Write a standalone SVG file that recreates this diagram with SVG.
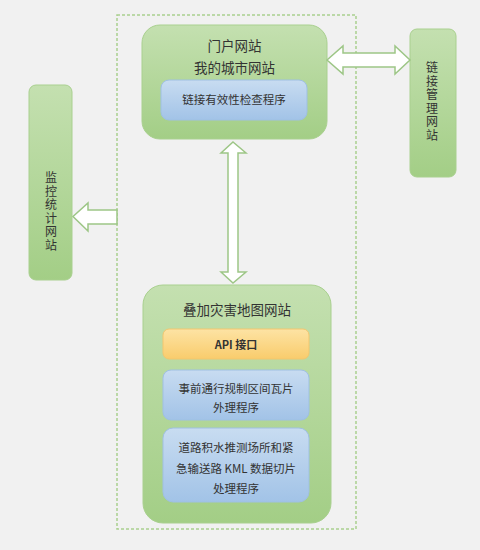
<svg xmlns="http://www.w3.org/2000/svg" width="480" height="550" viewBox="0 0 480 550">
<defs>
<linearGradient id="gG" x1="0" y1="0" x2="0" y2="1"><stop offset="0" stop-color="#c4e0b0"/><stop offset="1" stop-color="#a3ce86"/></linearGradient>
<linearGradient id="gB" x1="0" y1="0" x2="0" y2="1"><stop offset="0" stop-color="#c8dcf1"/><stop offset="1" stop-color="#a2c3e7"/></linearGradient>
<linearGradient id="gO" x1="0" y1="0" x2="0" y2="1"><stop offset="0" stop-color="#fde3a4"/><stop offset="1" stop-color="#f9cc6c"/></linearGradient>
<style>
.g{fill:url(#gG);stroke:#a9d08f;stroke-width:1}
.b{fill:url(#gB);stroke:#9fc0e2;stroke-width:1}
.o{fill:url(#gO);stroke:#f3c66e;stroke-width:1}
.ar{fill:#ffffff;stroke:#9dc686;stroke-width:1.5;stroke-linejoin:miter}
.t{font-family:"Noto Sans CJK SC","Noto Sans",sans-serif;fill:#333333;text-anchor:middle}
.v{writing-mode:vertical-rl;letter-spacing:1.5px}
.dash{fill:none;stroke:#a9cf8e;stroke-width:1.5;stroke-dasharray:3 2}
</style>
</defs>
<rect width="480" height="550" fill="#f1f1f1"/>
<rect class="dash" x="117" y="15" width="239" height="514"/>
<g id="portal">
<rect class="g" x="142" y="25" width="185" height="114" rx="18"/>
<text class="t" x="234.5" y="51" font-size="13.5">门户网站</text>
<text class="t" x="234.5" y="73" font-size="13.5">我的城市网站</text>
<rect class="b" x="161" y="80" width="146" height="40" rx="8"/>
<text class="t" x="234" y="104" font-size="11.5">链接有效性检查程序</text>
</g>
<g id="linkmgmt">
<rect class="g" x="410" y="29" width="46" height="148" rx="7"/>
<text class="t v" font-size="12" x="432" y="102">链接管理网站</text>
</g>
<g id="monitor">
<rect class="g" x="29" y="85" width="43" height="195" rx="7"/>
<text class="t v" font-size="12" x="51" y="212">监控统计网站</text>
</g>
<g id="disaster">
<rect class="g" x="143" y="285" width="188" height="238" rx="20"/>
<text class="t" x="237" y="315" font-size="13.5">叠加灾害地图网站</text>
<g id="api">
<rect class="o" x="163" y="329" width="146" height="30" rx="6"/>
<text class="t" x="236" y="348.5" font-size="11" font-weight="bold">API 接口</text>
</g>
<g id="proc1">
<rect class="b" x="163" y="370" width="146" height="50" rx="8"/>
<text class="t" x="236" y="393" font-size="11.5">事前通行规制区间瓦片</text>
<text class="t" x="236" y="412" font-size="11.5">外理程序</text>
</g>
<g id="proc2">
<rect class="b" x="163" y="428" width="146" height="74" rx="10"/>
<text class="t" x="236" y="452" font-size="11.5">道路积水推测场所和紧</text>
<text class="t" x="236" y="473" font-size="11.5">急输送路 KML 数据切片</text>
<text class="t" x="236" y="493" font-size="11.5">处理程序</text>
</g>
</g>
<g id="connectors">
<polygon class="ar" points="327,60 343,46 343,53 395,53 395,46 410,60 395,74 395,67 343,67 343,74"/>
<polygon class="ar" points="233,142 246,153 238,153 238,272 246,272 233,283 221,272 228,272 228,153 221,153"/>
<polygon class="ar" points="73,216.5 88,203 88,210 117,210 117,224 88,224 88,231"/>
</g>
</svg>
